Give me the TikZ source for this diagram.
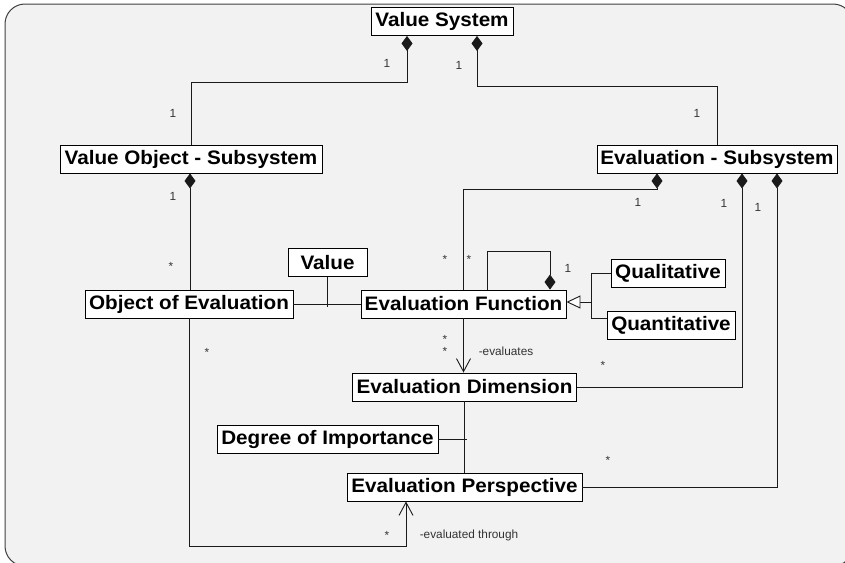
\documentclass[tikz,border=0pt]{standalone}
\usepackage{fontspec}
\setmainfont{Liberation Sans}
\newfontfamily\boxfont[FakeStretch=1.06]{Liberation Sans}
\usetikzlibrary{arrows.meta}
\definecolor{panel}{HTML}{F2F2F2}
\definecolor{rim}{HTML}{404040}
\definecolor{ink}{HTML}{1A1A1A}
\definecolor{note}{HTML}{333333}
\tikzset{
  cls/.style={draw=black, fill=white, line width=0.9pt, inner sep=0pt,
    minimum height=28pt, font=\boxfont\bfseries\fontsize{19.5}{20}\selectfont},
  link/.style={draw=ink, line width=0.9pt},
  comp/.style={link, {Diamond[length=15pt,width=11pt]}-},
  navi/.style={link, -{Straight Barb[length=13pt,width=14pt,line width=0.9pt]}},
  gen/.style={link, {Triangle[open,length=14pt,width=13pt,fill=white]}-},
  mult/.style={text=note, inner sep=0pt, font=\fontsize{11.8}{12}\selectfont},
}
\begin{document}
\begin{tikzpicture}[x=1pt, y=-1pt]
\useasboundingbox (0,0) rectangle (845,562);
% panel
\draw[rim, fill=panel, line width=1pt, rounded corners=20pt] (5,4) rectangle (853,566);

% classes
\node[cls, minimum width=142pt] (vs)   at (442,21.5)  {Value System};
\node[cls, minimum width=262pt] (vos)  at (191,159)   {Value Object - Subsystem};
\node[cls, minimum width=240pt] (es)   at (717,159)   {Evaluation - Subsystem};
\node[cls, minimum width=208pt] (ooe)  at (189,304)   {Object of Evaluation};
\node[cls, minimum width=79pt]  (val)  at (327.5,262.5) {Value};
\node[cls, minimum width=205pt] (ef)   at (463.5,304) {Evaluation Function};
\node[cls, minimum width=114pt] (qual) at (668,273)   {Qualitative};
\node[cls, minimum width=128pt] (quan) at (671,325)   {Quantitative};
\node[cls, minimum width=224pt] (ed)   at (464.5,387) {Evaluation Dimension};
\node[cls, minimum width=221pt] (doi)  at (327.5,439) {Degree of Importance};
\node[cls, minimum width=235pt] (ep)   at (464.5,487) {Evaluation Perspective};

% compositions
\draw[comp] ([xshift=-35pt]vs.south) -- ++(0,46) -| (vos.north);
\draw[comp] ([xshift=35pt]vs.south) -- ++(0,50) -| (es.north);
\draw[comp] ([xshift=-1pt]vos.south) -- ([xshift=-1pt]vos.south |- ooe.north);
\draw[comp] ([xshift=-60pt]es.south) -- ++(0,16) -| (ef.north);
\draw[comp] ([xshift=25pt]es.south) |- (ed.east);
\draw[comp] ([xshift=60pt]es.south) |- (ep.east);
\draw[comp] ([xshift=86.5pt]ef.north) -- ++(0,-38) -| ([xshift=23.5pt]ef.north);

% associations
\draw[link] (ooe.east) -- (ef.west);
\draw[link] (val.south) -- ++(0,30);
\draw[navi] (ef.south) -- (ef.south |- ed.north);
\draw[link] (ed.south) -- (ep.north);
\draw[link] (doi.east) -- ++(29,0);
\draw[navi] (ooe.south) -- ++(0,228) -| ([xshift=-58.5pt]ep.south);

% generalization
\draw[gen] ([yshift=2pt]ef.east) -- ++(25,0) coordinate (gj);
\draw[link] (qual.west) -| (gj) |- ([yshift=7pt]quan.west);

% multiplicities and role names
\node[mult] (m1)  at (387,63)  {1};
\node[mult] (m2)  at (459,65)  {1};
\node[mult] (m3)  at (173,113) {1};
\node[mult] (m4)  at (697,113) {1};
\node[mult] (m5)  at (173,196) {1};
\node[mult] (m6)  at (638,202) {1};
\node[mult] (m7)  at (724,203) {1};
\node[mult] (m8)  at (758,207) {1};
\node[mult] (m9)  at (568,268) {1};
\node[mult] (s1)  at (171,266) {*};
\node[mult] (s2)  at (445,259) {*};
\node[mult] (s3)  at (469,259) {*};
\node[mult] (s4)  at (445,339) {*};
\node[mult] (s5)  at (445,351) {*};
\node[mult] (s6)  at (603,365) {*};
\node[mult] (s7)  at (608,460) {*};
\node[mult] (s8)  at (207,352) {*};
\node[mult] (s9)  at (387,535) {*};
\node[mult] (r1)  at (506,351) {-evaluates};
\node[mult] (r2)  at (469,535) {-evaluated through};
\end{tikzpicture}
\end{document}
